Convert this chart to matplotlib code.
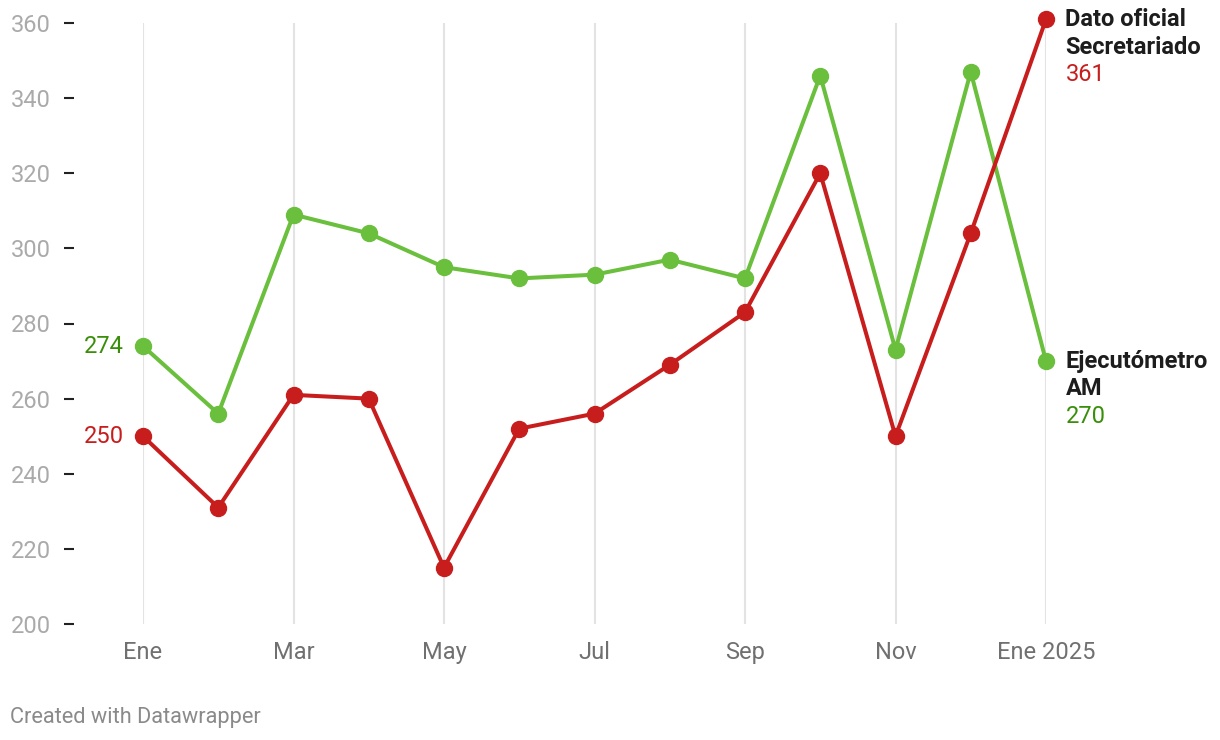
import matplotlib
matplotlib.use("Agg")
import matplotlib.pyplot as plt
import matplotlib.transforms as mtransforms

plt.rcParams['font.family'] = ['Roboto', 'DejaVu Sans']

months = ["Ene", "", "Mar", "", "May", "", "Jul", "", "Sep", "", "Nov", "", "Ene 2025"]
ejecutometro = [274, 256, 309, 304, 295, 292, 293, 297, 292, 346, 273, 347, 270]
oficial = [250, 231, 261, 260, 215, 252, 256, 269, 283, 320, 250, 304, 361]
yticks = [200, 220, 240, 260, 280, 300, 320, 340, 360]

GREEN = "#6abf3d"
GREEN_TXT = "#3a8f0a"
RED = "#c71e1d"

W, H = 1220, 740
fig = plt.figure(figsize=(W / 100, H / 100), dpi=100)
ax = fig.add_axes([143 / W, 1 - 624 / H, 903 / W, 601 / H])
x = list(range(len(months)))

ax.set_xlim(0, 12)
ax.set_ylim(200, 360)
for s in ax.spines.values():
    s.set_visible(False)

# vertical gridlines at labelled months
for i, m in enumerate(months):
    if m:
        ax.axvline(i, color="#e3e3e3", lw=1.5, zorder=0)

ax.set_xticks([i for i, m in enumerate(months) if m])
ax.set_xticklabels([m for m in months if m], fontsize=17, color="#707070")
ax.tick_params(axis="x", length=0, pad=12)
ax.set_yticks(yticks)
ax.set_yticklabels([str(v) for v in yticks], fontsize=17, color="#aaaaaa")
ax.tick_params(axis="y", length=0, pad=66.5)

# short dashes next to y labels
trans = mtransforms.blended_transform_factory(fig.transFigure, ax.transData)
for v in yticks:
    ax.plot([64 / W, 74 / W], [v, v], color="#222222", lw=1.5, transform=trans,
            clip_on=False, solid_capstyle="butt")

ax.plot(x, ejecutometro, color=GREEN, lw=2.9, marker="o", ms=11.5, clip_on=False, zorder=3)
ax.plot(x, oficial, color=RED, lw=2.9, marker="o", ms=11.5, clip_on=False, zorder=4)

# left value labels
ax.annotate(str(ejecutometro[0]), (0, ejecutometro[0]), xytext=(-14, 0), textcoords="offset points",
            ha="right", va="center", fontsize=17, color=GREEN_TXT)
ax.annotate(str(oficial[0]), (0, oficial[0]), xytext=(-14, 0), textcoords="offset points",
            ha="right", va="center", fontsize=17, color=RED)

# right labels
def end_label(yv, title_lines, value, color):
    ax.annotate(title_lines[0], (12, yv), xytext=(14, 0), textcoords="offset points",
                ha="left", va="center", fontsize=17, fontweight="bold", color="#1d1d1d",
                annotation_clip=False)
    ax.annotate(title_lines[1], (12, yv), xytext=(14, -20), textcoords="offset points",
                ha="left", va="center", fontsize=17, fontweight="bold", color="#1d1d1d",
                annotation_clip=False)
    ax.annotate(value, (12, yv), xytext=(14, -40), textcoords="offset points",
                ha="left", va="center", fontsize=17, color=color, annotation_clip=False)

end_label(oficial[-1], ["Dato oficial", "Secretariado"], str(oficial[-1]), RED)
end_label(ejecutometro[-1], ["Ejecutómetro", "AM"], str(ejecutometro[-1]), GREEN_TXT)

fig.text(10 / W, 1 - 717 / H, "Created with Datawrapper", fontsize=15.7, color="#8a8a8a",
         ha="left", va="center")

fig.savefig("out.png", dpi=100)
